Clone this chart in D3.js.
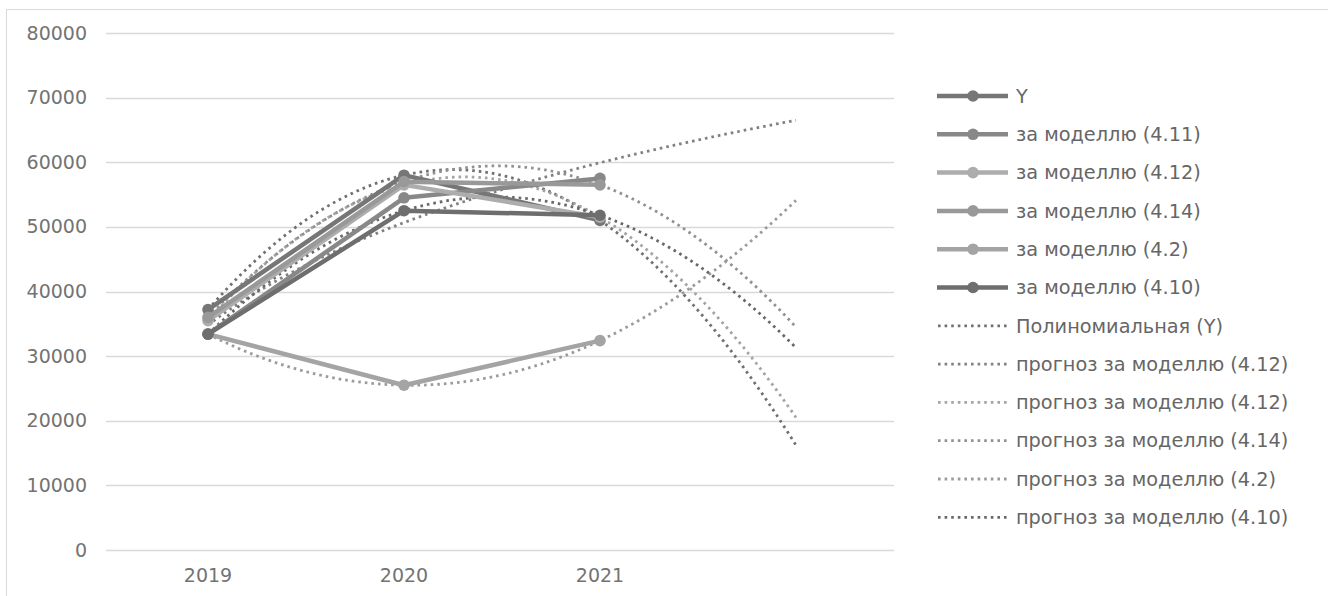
<!DOCTYPE html>
<html>
<head>
<meta charset="utf-8">
<script src="https://cdn.jsdelivr.net/npm/d3@7"></script>
<style>
  html, body { margin: 0; padding: 0; background: #fff; }
  svg { display: block; }
  text { font-family: "DejaVu Sans", "Open Sans", sans-serif; }
</style>
</head>
<body>
<svg id="chart" width="1328" height="596"></svg>
<script>
// Years on the category axis; the last slot is left empty for the one-period forecast
const categories = ["2019", "2020", "2021", ""];
const years = ["2019", "2020", "2021"];
const yTicks = [0, 10000, 20000, 30000, 40000, 50000, 60000, 70000, 80000];

// Observed and modelled values
const seriesY    = [37200, 58000, 51000];
const series4_11 = [33400, 54500, 57500];
const series4_12 = [35500, 56500, 51500];
const series4_14 = [36000, 57000, 56500];
const series4_2  = [33400, 25500, 32400];
const series4_10 = [33400, 52500, 51800];

const seriesNames = ["Y", "за моделлю (4.11)", "за моделлю (4.12)", "за моделлю (4.14)", "за моделлю (4.2)", "за моделлю (4.10)"];
const seriesColors = ["#767676", "#888888", "#adadad", "#999999", "#a4a4a4", "#6e6e6e"];

// Trendline per series: regression type and legend label
const trendTypes = ["poly2", "log", "poly2", "poly2", "poly2", "poly2"];
const trendNames = ["Полиномиальная (Y)", "прогноз за моделлю (4.12)", "прогноз за моделлю (4.12)", "прогноз за моделлю (4.14)", "прогноз за моделлю (4.2)", "прогноз за моделлю (4.10)"];
const forecastForward = 1;

const allSeries = [seriesY, series4_11, series4_12, series4_14, series4_2, series4_10];

// ---- regression helpers (x = 1..n, as on a category axis) ----
function solve3(A, b) {
  const M = A.map((r, i) => [...r, b[i]]);
  for (let c = 0; c < 3; c++) {
    let p = c;
    for (let r = c + 1; r < 3; r++) if (Math.abs(M[r][c]) > Math.abs(M[p][c])) p = r;
    [M[c], M[p]] = [M[p], M[c]];
    for (let r = 0; r < 3; r++) {
      if (r === c) continue;
      const f = M[r][c] / M[c][c];
      for (let k = c; k < 4; k++) M[r][k] -= f * M[c][k];
    }
  }
  return M.map((r, i) => r[3] / r[i]);
}
function fitPoly2(vals) {
  const S = [0, 0, 0, 0, 0], T = [0, 0, 0];
  vals.forEach((v, i) => {
    const x = i + 1;
    for (let k = 0; k < 5; k++) S[k] += Math.pow(x, k);
    for (let k = 0; k < 3; k++) T[k] += v * Math.pow(x, k);
  });
  const c = solve3([[S[0], S[1], S[2]], [S[1], S[2], S[3]], [S[2], S[3], S[4]]], T);
  return x => c[0] + c[1] * x + c[2] * x * x;
}
function fitLog(vals) {
  const xs = vals.map((v, i) => Math.log(i + 1));
  const mx = d3.mean(xs), my = d3.mean(vals);
  const sxy = d3.sum(xs, (x, i) => (x - mx) * (vals[i] - my));
  const sxx = d3.sum(xs, x => (x - mx) * (x - mx));
  const b = sxy / sxx, a = my - b * mx;
  return x => a + b * Math.log(x);
}

// ---- layout ----
const svg = d3.select("#chart");
const plot = { left: 106, right: 894, top: 33, bottom: 550 };

svg.append("rect").attr("width", 1328).attr("height", 596).attr("fill", "#fff");
svg.append("rect")
  .attr("x", 6.5).attr("y", 9.5).attr("width", 1340).attr("height", 620)
  .attr("fill", "none").attr("stroke", "#d9d9d9").attr("stroke-width", 1);

const x = d3.scaleBand().domain(categories).range([110, 894]);
const y = d3.scaleLinear().domain([0, 80000]).range([plot.bottom, plot.top]);
const cx = i => x(categories[i]) + x.bandwidth() / 2;
// continuous position along the categories (1-based index)
const xi = d3.scaleLinear().domain([1, 2]).range([cx(0), cx(1)]);

// gridlines
svg.append("g")
  .selectAll("line").data(yTicks).join("line")
  .attr("x1", plot.left).attr("x2", plot.right)
  .attr("y1", d => Math.round(y(d)) + 0.5).attr("y2", d => Math.round(y(d)) + 0.5)
  .attr("stroke", "#d9d9d9").attr("stroke-width", 1.3);

// y axis labels
const yAxis = d3.axisLeft(y).tickValues(yTicks).tickSize(0).tickPadding(0).tickFormat(d3.format("d"));
svg.append("g").attr("transform", "translate(87,0)").call(yAxis)
  .call(g => g.select(".domain").remove())
  .selectAll("text")
  .attr("font-family", "DejaVu Sans, sans-serif").attr("font-size", 19).attr("fill", "#737373");

// x axis labels
const xAxis = d3.axisBottom(x).tickValues(years).tickSize(0).tickPadding(0);
svg.append("g").attr("transform", `translate(0,${plot.bottom + 18})`).call(xAxis)
  .call(g => g.select(".domain").remove())
  .selectAll("text")
  .attr("font-family", "DejaVu Sans, sans-serif").attr("font-size", 19).attr("fill", "#737373");

// trendlines (drawn beneath the series)
const dotted = "2.6 4";
const line = d3.line().x(d => xi(d[0])).y(d => y(d[1]));
allSeries.forEach((vals, si) => {
  const f = trendTypes[si] === "log" ? fitLog(vals) : fitPoly2(vals);
  const pts = d3.range(1, vals.length + forecastForward + 0.0001, 0.02).map(t => [t, f(t)]);
  svg.append("path").datum(pts)
    .attr("d", line).attr("fill", "none")
    .attr("stroke", d3.color(seriesColors[si]).darker(0.15))
    .attr("stroke-width", 2.8)
    .attr("stroke-dasharray", dotted);
});

// series lines with markers
allSeries.forEach((vals, si) => {
  const g = svg.append("g");
  g.append("path").datum(vals.map((v, i) => [i + 1, v]))
    .attr("d", line).attr("fill", "none")
    .attr("stroke", seriesColors[si]).attr("stroke-width", 4.5)
    .attr("stroke-linejoin", "round");
  g.selectAll("circle").data(vals).join("circle")
    .attr("cx", (d, i) => cx(i)).attr("cy", d => y(d)).attr("r", 5.8)
    .attr("fill", seriesColors[si]);
});

// legend
const legend = svg.append("g");
const legendItems = seriesNames.map((n, i) => ({ name: n, color: seriesColors[i], trend: false }))
  .concat(trendNames.map((n, i) => ({ name: n, color: d3.color(seriesColors[i]).darker(0.15), trend: true })));
const ly0 = 96, lstep = 38.3;
legendItems.forEach((it, i) => {
  const ly = ly0 + i * lstep;
  const row = legend.append("g").attr("transform", `translate(0,${ly})`);
  if (it.trend) {
    row.append("line").attr("x1", 938).attr("x2", 1008).attr("y1", 0).attr("y2", 0)
      .attr("stroke", it.color).attr("stroke-width", 2.8).attr("stroke-dasharray", dotted);
  } else {
    row.append("line").attr("x1", 937).attr("x2", 1008).attr("y1", 0).attr("y2", 0)
      .attr("stroke", it.color).attr("stroke-width", 4.5);
    row.append("circle").attr("cx", 973).attr("cy", 0).attr("r", 5.8).attr("fill", it.color);
  }
  row.append("text").attr("x", 1016).attr("y", 0).attr("dy", "0.35em")
    .attr("font-size", 19.3).attr("fill", "#666").text(it.name);
});
</script>
</body>
</html>
